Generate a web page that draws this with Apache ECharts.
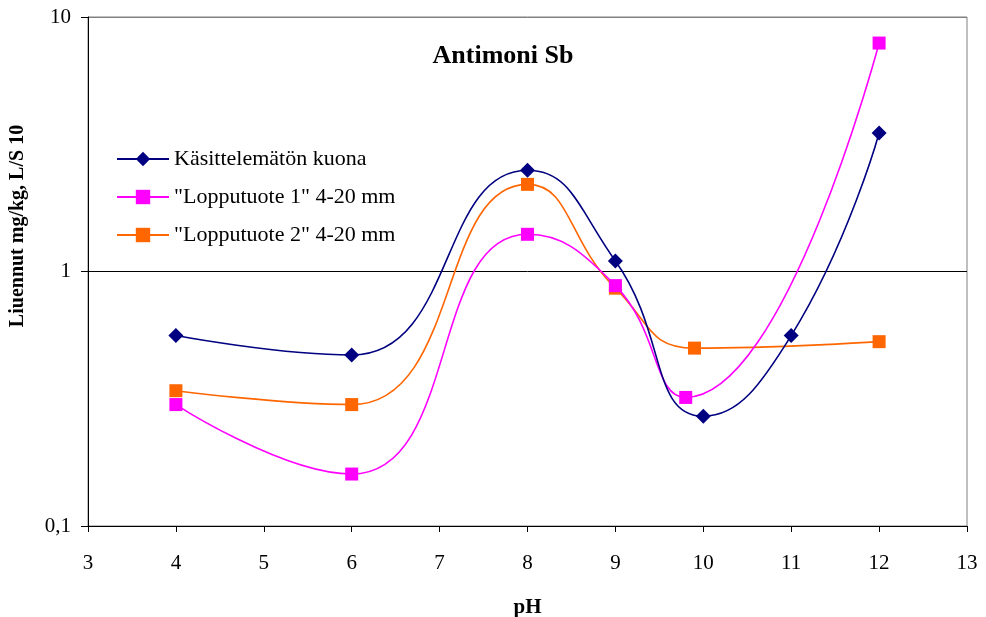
<!DOCTYPE html>
<html>
<head>
<meta charset="utf-8">
<script src="https://cdn.jsdelivr.net/npm/echarts@6/dist/echarts.min.js"></script>
<style>html,body{margin:0;padding:0;background:#fff}#c{width:986px;height:617px}</style>
</head>
<body>
<div id="c"></div>
<script>
const titleText = 'Antimoni Sb';
const xName = 'pH';
const yName = 'Liuennut mg/kg, L/S 10';
const seriesNames = ['Käsittelemätön kuona', '"Lopputuote 1" 4-20 mm', '"Lopputuote 2" 4-20 mm'];
const s1x = [4, 6, 8, 9, 10, 11, 12];
const s1y = [0.56, 0.47, 2.5, 1.1, 0.27, 0.56, 3.5];
const s2x = [4, 6, 8, 9, 9.8, 12];
const s2y = [0.30, 0.16, 1.4, 0.88, 0.32, 7.9];
const s3x = [4, 6, 8, 9, 9.9, 12];
const s3y = [0.34, 0.30, 2.2, 0.86, 0.50, 0.53];
const colors = ['#000080', '#FF00FF', '#FF6600'];
const symbols = ['diamond', 'rect', 'rect'];

const font = '"Liberation Serif", "Times New Roman", serif';
const pairs = (xs, ys) => xs.map((x, i) => [x, ys[i]]);
const data = [pairs(s1x, s1y), pairs(s2x, s2y), pairs(s3x, s3y)];

const chart = echarts.init(document.getElementById('c'), null, {renderer: 'canvas'});
chart.setOption({
  animation: false,
  backgroundColor: '#fff',
  title: {
    text: titleText, left: 498, top: 38, textAlign: 'center',
    textStyle: {fontFamily: font, fontSize: 26, fontWeight: 'bold', color: '#000'}
  },
  legend: {
    left: 111, top: 143, orient: 'vertical',
    itemWidth: 52, itemHeight: 18, itemGap: 16,
    textStyle: {fontFamily: font, fontSize: 22, lineHeight: 22, color: '#000'},
    data: seriesNames
  },
  grid: {left: 88, right: 19, top: 17, bottom: 91, show: true, borderColor: '#808080', borderWidth: 1,
    containLabel: false, outerBoundsMode: 'none'},
  xAxis: {
    type: 'value', min: 3, max: 13, interval: 1,
    name: xName, nameLocation: 'middle', nameGap: 71,
    nameTextStyle: {fontFamily: font, fontSize: 21, fontWeight: 'bold', color: '#000'},
    axisLine: {lineStyle: {color: '#000', width: 1}},
    axisTick: {show: true, length: 6, lineStyle: {color: '#000'}},
    axisLabel: {fontFamily: font, fontSize: 21, color: '#000', margin: 27},
    splitLine: {show: false}
  },
  yAxis: {
    type: 'log', logBase: 10, min: 0.1, max: 10,
    axisLine: {show: true, lineStyle: {color: '#000', width: 1}},
    axisTick: {show: true, length: 7, lineStyle: {color: '#000'}},
    axisLabel: {fontFamily: font, fontSize: 21, color: '#000', margin: 17,
      formatter: v => String(+v.toPrecision(6)).replace('.', ',')},
    splitLine: {show: true, lineStyle: {color: ['#000', '#000', '#808080'], width: 1}}
  },
  graphic: [{
    type: 'text', x: 18, y: 226, rotation: Math.PI / 2,
    style: {text: yName, font: 'bold 20px ' + font, fill: '#000', align: 'center', verticalAlign: 'middle'}
  }],
  series: data.map((d, i) => ({
    name: seriesNames[i], type: 'line', data: d,
    smooth: 0.5,
    symbol: symbols[i], symbolSize: i === 0 ? 15 : 13,
    itemStyle: {color: colors[i]},
    lineStyle: {color: colors[i], width: 1.6},
    z: 3 - i
  }))
});
</script>
</body>
</html>
